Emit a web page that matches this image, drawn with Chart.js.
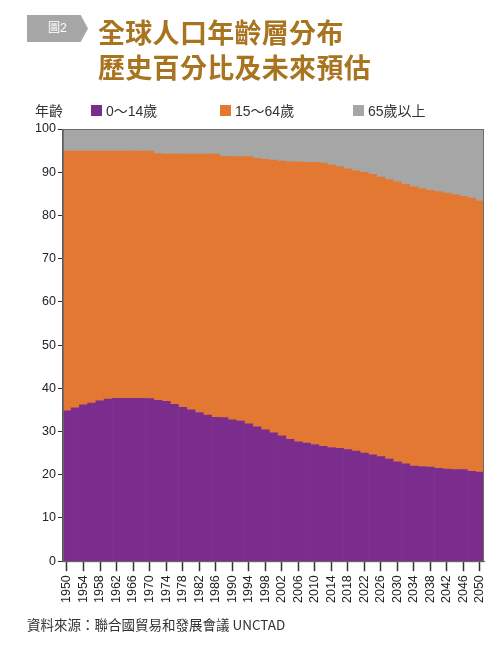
<!DOCTYPE html>
<html>
<head>
<meta charset="utf-8">
<script src="https://cdn.jsdelivr.net/npm/chart.js@4"></script>
<style>
  html, body { margin: 0; padding: 0; background: #fff; }
  body { width: 501px; height: 645px; position: relative; overflow: hidden;
         font-family: "Liberation Sans", Arial, "Noto Sans CJK TC", sans-serif; color: #333; }
  #wrap { position: absolute; left: 0; top: 0; width: 501px; height: 645px; }
  .tag { position: absolute; left: 27px; top: 15px; width: 61px; height: 27px; background: #a6a6a6;
         clip-path: polygon(0 0, 88% 0, 100% 50%, 88% 100%, 0 100%); color: #fff;
         font-size: 12px; line-height: 27px; text-indent: 21px; }
  .title { position: absolute; left: 98px; top: 14px; color: #a8741f; font-family: "Noto Sans CJK TC", sans-serif;
           font-weight: 700; font-size: 27px; line-height: 35px; letter-spacing: 0.3px; }
  .yname { position: absolute; left: 35px; top: 100px; font-size: 14px; font-family: "Noto Sans CJK TC", sans-serif; }
  .leg { position: absolute; top: 100px; font-size: 14px; font-family: "Liberation Sans", "Noto Sans CJK TC", sans-serif; display: flex; align-items: center; }
  .leg i { display: inline-block; width: 11px; height: 11px; margin-right: 4px; }
  .src { position: absolute; left: 27px; top: 614px; font-size: 13.5px; font-family: "Noto Sans CJK TC", sans-serif; color: #333; }
</style>
</head>
<body>
<div id="wrap"><canvas id="popChart" width="501" height="645"></canvas></div>
<div class="tag">圖2</div>
<div class="title">全球人口年齡層分布<br>歷史百分比及未來預估</div>
<div class="yname">年齡</div>
<div class="leg" style="left:91px"><i style="background:#7b2d8e"></i>0～14歲</div>
<div class="leg" style="left:220px"><i style="background:#e27832"></i>15～64歲</div>
<div class="leg" style="left:353px"><i style="background:#a6a6a6"></i>65歲以上</div>
<div class="src">資料來源：聯合國貿易和發展會議 UNCTAD</div>
<script>
const years = [
  1950, 1952, 1954, 1956, 1958, 1960, 1962, 1964, 1966, 1968,
  1970, 1972, 1974, 1976, 1978, 1980, 1982, 1984, 1986, 1988,
  1990, 1992, 1994, 1996, 1998, 2000, 2002, 2004, 2006, 2008,
  2010, 2012, 2014, 2016, 2018, 2020, 2022, 2024, 2026, 2028,
  2030, 2032, 2034, 2036, 2038, 2040, 2042, 2044, 2046, 2048, 2050
];

// share of population (%) by age group
const age0to14 = [
  34.8, 35.5, 36.2, 36.6, 37.1, 37.5, 37.7, 37.7, 37.7, 37.7,
  37.6, 37.2, 37.0, 36.3, 35.6, 35.0, 34.4, 33.8, 33.3, 33.2,
  32.7, 32.4, 31.8, 31.1, 30.4, 29.7, 29.0, 28.2, 27.6, 27.3,
  27.0, 26.6, 26.3, 26.1, 25.8, 25.5, 25.0, 24.6, 24.2, 23.6,
  23.0, 22.5, 22.0, 21.9, 21.8, 21.5, 21.3, 21.2, 21.2, 20.8, 20.6
];
const age15to64 = [
  60.1, 59.4, 58.7, 58.3, 57.8, 57.4, 57.2, 57.2, 57.2, 57.2,
  57.3, 57.1, 57.2, 57.9, 58.6, 59.2, 59.8, 60.4, 60.9, 60.5,
  60.9, 61.2, 61.8, 62.1, 62.6, 63.1, 63.6, 64.2, 64.8, 65.0,
  65.3, 65.5, 65.4, 65.2, 65.0, 64.9, 65.0, 64.9, 64.7, 64.7,
  64.8, 64.7, 64.7, 64.3, 64.0, 64.0, 63.9, 63.6, 63.2, 63.2, 62.7
];
const age65plus = [
  5.1, 5.1, 5.1, 5.1, 5.1, 5.1, 5.1, 5.1, 5.1, 5.1,
  5.1, 5.7, 5.8, 5.8, 5.8, 5.8, 5.8, 5.8, 5.8, 6.3,
  6.4, 6.4, 6.4, 6.8, 7.0, 7.2, 7.4, 7.6, 7.6, 7.7,
  7.7, 7.9, 8.3, 8.7, 9.2, 9.6, 10.0, 10.5, 11.1, 11.7,
  12.2, 12.8, 13.3, 13.8, 14.2, 14.5, 14.8, 15.2, 15.6, 16.0, 16.7
];

const axisFont = { family: "'Liberation Sans', Arial, sans-serif", size: 12.5 };

// thin frame round the plot area
const plotFrame = {
  id: "plotFrame",
  afterDraw(chart) {
    const { ctx, chartArea: a } = chart;
    ctx.save();
    ctx.strokeStyle = "#6b6b6b";
    ctx.lineWidth = 1;
    ctx.strokeRect(a.left + 0.5, a.top + 0.5, a.right - a.left - 1, a.bottom - a.top);
    ctx.restore();
  }
};

function barSet(label, data, color) {
  return {
    label,
    data,
    backgroundColor: color,
    borderWidth: 0,
    categoryPercentage: 1,
    barPercentage: 1
  };
}

new Chart(document.getElementById("popChart"), {
  type: "bar",
  data: {
    labels: years.map(String),
    datasets: [
      barSet("0～14歲", age0to14, "#7b2d8e"),
      barSet("15～64歲", age15to64, "#e27832"),
      barSet("65歲以上", age65plus, "#a6a6a6")
    ]
  },
  options: {
    responsive: false,
    animation: false,
    layout: { padding: { top: 129, left: 33, right: 17, bottom: 38 } },
    plugins: { legend: { display: false }, tooltip: { enabled: false } },
    scales: {
      x: {
        stacked: true,
        offset: true,
        grid: {
          offset: false,
          drawOnChartArea: false,
          tickLength: 10,
          tickWidth: 1.5,
          color: (ctx) => (ctx.index % 2 === 0 ? "#333" : "rgba(0,0,0,0)")
        },
        border: { color: "#555" },
        ticks: {
          autoSkip: false,
          maxRotation: 90,
          minRotation: 90,
          padding: 4,
          color: "#222",
          font: axisFont,
          callback: (value, index) => (index % 2 === 0 ? years[index] : "")
        }
      },
      y: {
        stacked: true,
        min: 0,
        max: 100,
        grid: { drawOnChartArea: false, tickLength: 5, color: "#333" },
        border: { color: "#555" },
        ticks: { stepSize: 10, padding: 2, color: "#222", font: axisFont }
      }
    }
  },
  plugins: [plotFrame]
});
</script>
</body>
</html>
